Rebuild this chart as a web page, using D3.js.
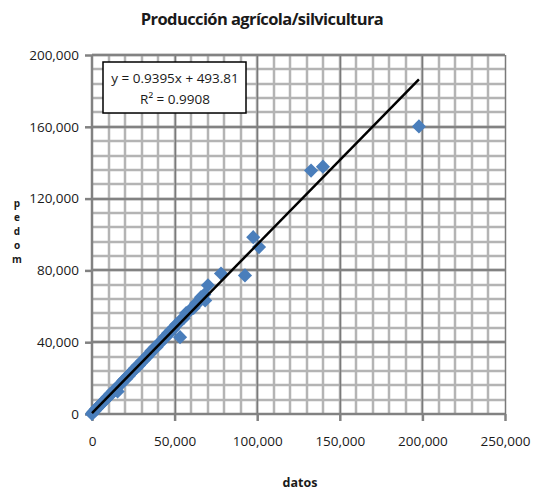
<!DOCTYPE html>
<html>
<head>
<meta charset="utf-8">
<script src="https://cdn.jsdelivr.net/npm/d3@7"></script>
<style>
  body { margin: 0; background: #fff; }
  svg text { font-family: "Open Sans", "Liberation Sans", sans-serif; fill: #1a1a1a; }
</style>
</head>
<body>
<script>
var datosX = [0, 300, 800, 1500, 2200, 3000, 3800, 4500, 5300, 6100, 7000, 7800, 8600, 9500, 10400, 11200,
  12100, 13000, 13800, 14700, 15500, 16400, 17200, 18100, 19000, 19800, 20700, 21500, 22400, 23300, 24100,
  25000, 25900, 26800, 27600, 28500, 29400, 30300, 31200, 32100, 33000, 34000, 35000, 36000, 37000, 38000,
  39000, 40000, 41000, 42000, 43000, 44000, 45000, 46000, 47000, 48000, 49000, 50000, 51000, 52000, 53300,
  54000, 55500, 57000, 58500, 60000, 61500, 63000, 64500, 66000, 68000, 68500, 70200, 78100, 92600,
  97600, 101100, 132600, 139800, 197900];
var predY = [0, 600, 1100, 1700, 2600, 3100, 4000, 4600, 5400, 6200, 6800, 7900, 8400, 9600, 10000, 11300,
  11600, 12900, 13500, 14200, 12600, 15900, 16800, 17300, 18600, 19400, 19700, 21000, 21300, 22600, 23500,
  24000, 25300, 25600, 27000, 27100, 28300, 29500, 29800, 31100, 31600, 33000, 33400, 35200, 35800, 37000,
  37200, 38800, 39300, 40700, 41500, 42900, 43100, 45000, 45200, 46800, 47100, 48600, 49800, 50300, 42800,
  52600, 53400, 56200, 57000, 58400, 59100, 61700, 62200, 65100, 66600, 63300, 71700, 78300, 77200,
  98500, 93000, 135600, 137800, 160200];

var xTicks = [0, 50000, 100000, 150000, 200000, 250000];
var yTicks = [0, 40000, 80000, 120000, 160000, 200000];
var slope = 0.9395, intercept = 493.81, r2 = 0.9908;

var W = 533, H = 490;
var svg = d3.select("body").append("svg").attr("width", W).attr("height", H);

var x = d3.scaleLinear().domain([0, 250000]).range([92, 505]);
var y = d3.scaleLinear().domain([0, 200000]).range([414, 55]);

// minor grid
var grid = svg.append("g");
grid.selectAll(".vmin").data(d3.range(10000, 250000, 10000))
  .enter().append("line")
  .attr("x1", function(d) { return Math.round(x(d)); }).attr("x2", function(d) { return Math.round(x(d)); })
  .attr("y1", y(0)).attr("y2", y(200000))
  .attr("stroke", "#b4b4b4").attr("stroke-width", 2.5);
grid.selectAll(".hmin").data(d3.range(8000, 200001, 8000))
  .enter().append("line")
  .attr("y1", function(d) { return Math.round(y(d)); }).attr("y2", function(d) { return Math.round(y(d)); })
  .attr("x1", x(0)).attr("x2", x(250000))
  .attr("stroke", "#b4b4b4").attr("stroke-width", 2.5);
// major grid
grid.selectAll(".vmaj").data(xTicks.slice(1))
  .enter().append("line")
  .attr("x1", function(d) { return Math.round(x(d)) + 0.5; }).attr("x2", function(d) { return Math.round(x(d)) + 0.5; })
  .attr("y1", y(0)).attr("y2", y(200000))
  .attr("stroke", "#7a7a7a").attr("stroke-width", 1.5);
grid.selectAll(".hmaj").data(yTicks.slice(1))
  .enter().append("line")
  .attr("y1", function(d) { return Math.round(y(d)); }).attr("y2", function(d) { return Math.round(y(d)); })
  .attr("x1", x(0)).attr("x2", x(250000))
  .attr("stroke", "#828282").attr("stroke-width", 2.5);

// axes
var fmt = d3.format(",");
var xAxis = svg.append("g")
  .attr("transform", "translate(0," + y(0) + ")")
  .call(d3.axisBottom(x).tickValues(xTicks).tickSize(7).tickPadding(15).tickFormat(fmt));
var yAxis = svg.append("g")
  .attr("transform", "translate(" + x(0) + ",0)")
  .call(d3.axisLeft(y).tickValues(yTicks).tickSize(7).tickPadding(6).tickFormat(fmt));
[xAxis, yAxis].forEach(function(a) {
  a.select(".domain").attr("stroke", "#828282").attr("stroke-width", 2.5);
  a.selectAll(".tick line").attr("stroke", "#828282").attr("stroke-width", 2.5);
  a.selectAll(".tick text").style("font-size", "13.5px").attr("fill", "#1a1a1a");
});
// remove the end-cap stubs of the domain path
xAxis.select(".domain").attr("d", "M" + x(0) + ",0H" + x(250000));
yAxis.select(".domain").attr("d", "M0," + y(0) + "V" + y(200000));

// points
var pts = datosX.map(function(d, i) { return [d, predY[i]]; });
svg.append("g").selectAll("path").data(pts)
  .enter().append("path")
  .attr("d", d3.symbol().type(d3.symbolSquare).size(100))
  .attr("transform", function(d) { return "translate(" + x(d[0]) + "," + y(d[1]) + ") rotate(45)"; })
  .attr("fill", "#4a7ebb");

// trendline
var xMax = d3.max(datosX), xMin = d3.min(datosX);
svg.append("line")
  .attr("x1", x(xMin)).attr("y1", y(slope * xMin + intercept))
  .attr("x2", x(xMax)).attr("y2", y(slope * xMax + intercept))
  .attr("stroke", "#000").attr("stroke-width", 2.5);

// equation box
svg.append("rect").attr("x", 103).attr("y", 62).attr("width", 143).attr("height", 51)
  .attr("fill", "#fff").attr("stroke", "#000").attr("stroke-width", 1.5);
svg.append("text").attr("x", 175).attr("y", 83).attr("text-anchor", "middle")
  .style("font-size", "13.5px").text("y = " + slope + "x + " + intercept);
svg.append("text").attr("x", 175).attr("y", 104).attr("text-anchor", "middle")
  .style("font-size", "13.5px").text("R² = " + r2);

// title
svg.append("text").attr("x", 262).attr("y", 25).attr("text-anchor", "middle")
  .style("font-size", "16.5px").style("font-weight", "bold").style("letter-spacing", "-0.6px")
  .text("Producción agrícola/silvicultura");

// axis titles
svg.append("text").attr("x", 300).attr("y", 487).attr("text-anchor", "middle")
  .style("font-size", "12.5px").style("font-weight", "bold").text("datos");
// stacked letters of the vertical axis title
var yLetters = [["p", 207], ["e", 221], ["d", 235], ["o", 249], ["m", 263]];
svg.append("g").selectAll("text").data(yLetters).enter().append("text")
  .attr("x", 17).attr("y", function(d) { return d[1]; }).attr("text-anchor", "middle")
  .style("font-size", "10px").style("font-weight", "bold")
  .text(function(d) { return d[0]; });
</script>
</body>
</html>
